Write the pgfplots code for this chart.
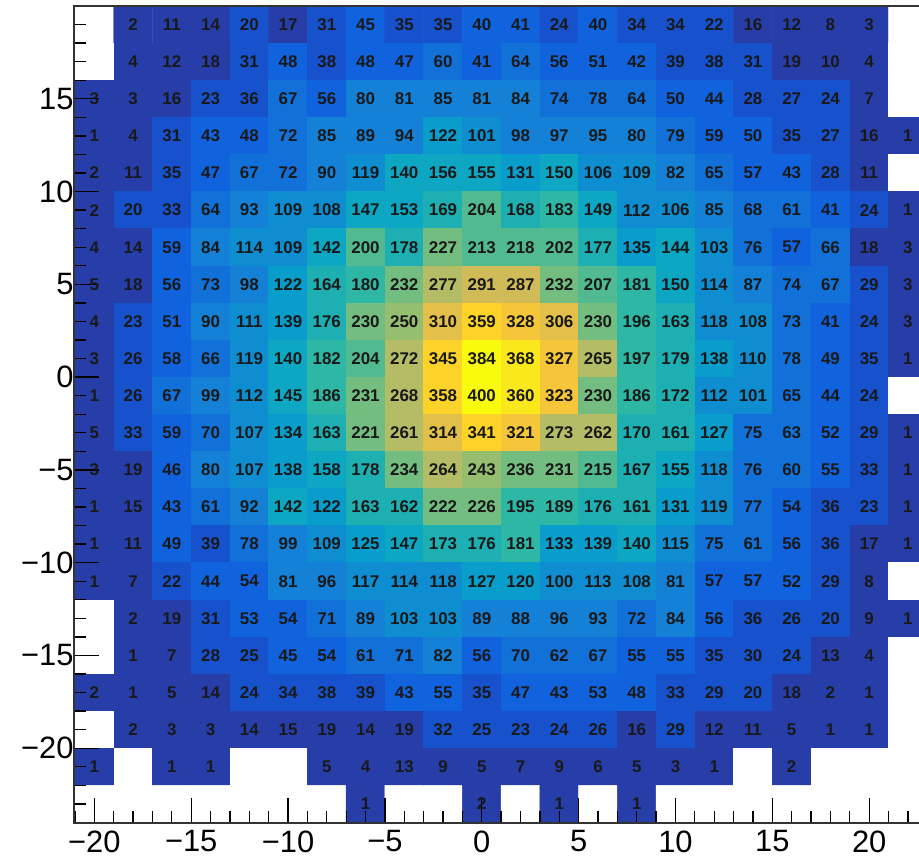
\documentclass[border=0pt]{standalone}
\usepackage{fontspec}
\setmainfont{Liberation Sans}
\usepackage{pgfplots}
\usepackage{pgfplotstable}
\pgfplotsset{compat=1.18}

% 2D histogram contents: bin centres (x, y) and bin content z (0 = empty bin)
\pgfplotstableread[row sep=\\]{
x y z \\
-20 19 0 \\ -18 19 2 \\ -16 19 11 \\ -14 19 14 \\ -12 19 20 \\ -10 19 17 \\ -8 19 31 \\ -6 19 45 \\ -4 19 35 \\ -2 19 35 \\ 0 19 40 \\ 2 19 41 \\ 4 19 24 \\ 6 19 40 \\ 8 19 34 \\ 10 19 34 \\ 12 19 22 \\ 14 19 16 \\ 16 19 12 \\ 18 19 8 \\ 20 19 3 \\ 22 19 0 \\
-20 17 0 \\ -18 17 4 \\ -16 17 12 \\ -14 17 18 \\ -12 17 31 \\ -10 17 48 \\ -8 17 38 \\ -6 17 48 \\ -4 17 47 \\ -2 17 60 \\ 0 17 41 \\ 2 17 64 \\ 4 17 56 \\ 6 17 51 \\ 8 17 42 \\ 10 17 39 \\ 12 17 38 \\ 14 17 31 \\ 16 17 19 \\ 18 17 10 \\ 20 17 4 \\ 22 17 0 \\
-20 15 3 \\ -18 15 3 \\ -16 15 16 \\ -14 15 23 \\ -12 15 36 \\ -10 15 67 \\ -8 15 56 \\ -6 15 80 \\ -4 15 81 \\ -2 15 85 \\ 0 15 81 \\ 2 15 84 \\ 4 15 74 \\ 6 15 78 \\ 8 15 64 \\ 10 15 50 \\ 12 15 44 \\ 14 15 28 \\ 16 15 27 \\ 18 15 24 \\ 20 15 7 \\ 22 15 0 \\
-20 13 1 \\ -18 13 4 \\ -16 13 31 \\ -14 13 43 \\ -12 13 48 \\ -10 13 72 \\ -8 13 85 \\ -6 13 89 \\ -4 13 94 \\ -2 13 122 \\ 0 13 101 \\ 2 13 98 \\ 4 13 97 \\ 6 13 95 \\ 8 13 80 \\ 10 13 79 \\ 12 13 59 \\ 14 13 50 \\ 16 13 35 \\ 18 13 27 \\ 20 13 16 \\ 22 13 1 \\
-20 11 2 \\ -18 11 11 \\ -16 11 35 \\ -14 11 47 \\ -12 11 67 \\ -10 11 72 \\ -8 11 90 \\ -6 11 119 \\ -4 11 140 \\ -2 11 156 \\ 0 11 155 \\ 2 11 131 \\ 4 11 150 \\ 6 11 106 \\ 8 11 109 \\ 10 11 82 \\ 12 11 65 \\ 14 11 57 \\ 16 11 43 \\ 18 11 28 \\ 20 11 11 \\ 22 11 0 \\
-20 9 2 \\ -18 9 20 \\ -16 9 33 \\ -14 9 64 \\ -12 9 93 \\ -10 9 109 \\ -8 9 108 \\ -6 9 147 \\ -4 9 153 \\ -2 9 169 \\ 0 9 204 \\ 2 9 168 \\ 4 9 183 \\ 6 9 149 \\ 8 9 112 \\ 10 9 106 \\ 12 9 85 \\ 14 9 68 \\ 16 9 61 \\ 18 9 41 \\ 20 9 24 \\ 22 9 1 \\
-20 7 4 \\ -18 7 14 \\ -16 7 59 \\ -14 7 84 \\ -12 7 114 \\ -10 7 109 \\ -8 7 142 \\ -6 7 200 \\ -4 7 178 \\ -2 7 227 \\ 0 7 213 \\ 2 7 218 \\ 4 7 202 \\ 6 7 177 \\ 8 7 135 \\ 10 7 144 \\ 12 7 103 \\ 14 7 76 \\ 16 7 57 \\ 18 7 66 \\ 20 7 18 \\ 22 7 3 \\
-20 5 5 \\ -18 5 18 \\ -16 5 56 \\ -14 5 73 \\ -12 5 98 \\ -10 5 122 \\ -8 5 164 \\ -6 5 180 \\ -4 5 232 \\ -2 5 277 \\ 0 5 291 \\ 2 5 287 \\ 4 5 232 \\ 6 5 207 \\ 8 5 181 \\ 10 5 150 \\ 12 5 114 \\ 14 5 87 \\ 16 5 74 \\ 18 5 67 \\ 20 5 29 \\ 22 5 3 \\
-20 3 4 \\ -18 3 23 \\ -16 3 51 \\ -14 3 90 \\ -12 3 111 \\ -10 3 139 \\ -8 3 176 \\ -6 3 230 \\ -4 3 250 \\ -2 3 310 \\ 0 3 359 \\ 2 3 328 \\ 4 3 306 \\ 6 3 230 \\ 8 3 196 \\ 10 3 163 \\ 12 3 118 \\ 14 3 108 \\ 16 3 73 \\ 18 3 41 \\ 20 3 24 \\ 22 3 3 \\
-20 1 3 \\ -18 1 26 \\ -16 1 58 \\ -14 1 66 \\ -12 1 119 \\ -10 1 140 \\ -8 1 182 \\ -6 1 204 \\ -4 1 272 \\ -2 1 345 \\ 0 1 384 \\ 2 1 368 \\ 4 1 327 \\ 6 1 265 \\ 8 1 197 \\ 10 1 179 \\ 12 1 138 \\ 14 1 110 \\ 16 1 78 \\ 18 1 49 \\ 20 1 35 \\ 22 1 1 \\
-20 -1 1 \\ -18 -1 26 \\ -16 -1 67 \\ -14 -1 99 \\ -12 -1 112 \\ -10 -1 145 \\ -8 -1 186 \\ -6 -1 231 \\ -4 -1 268 \\ -2 -1 358 \\ 0 -1 400 \\ 2 -1 360 \\ 4 -1 323 \\ 6 -1 230 \\ 8 -1 186 \\ 10 -1 172 \\ 12 -1 112 \\ 14 -1 101 \\ 16 -1 65 \\ 18 -1 44 \\ 20 -1 24 \\ 22 -1 0 \\
-20 -3 5 \\ -18 -3 33 \\ -16 -3 59 \\ -14 -3 70 \\ -12 -3 107 \\ -10 -3 134 \\ -8 -3 163 \\ -6 -3 221 \\ -4 -3 261 \\ -2 -3 314 \\ 0 -3 341 \\ 2 -3 321 \\ 4 -3 273 \\ 6 -3 262 \\ 8 -3 170 \\ 10 -3 161 \\ 12 -3 127 \\ 14 -3 75 \\ 16 -3 63 \\ 18 -3 52 \\ 20 -3 29 \\ 22 -3 1 \\
-20 -5 3 \\ -18 -5 19 \\ -16 -5 46 \\ -14 -5 80 \\ -12 -5 107 \\ -10 -5 138 \\ -8 -5 158 \\ -6 -5 178 \\ -4 -5 234 \\ -2 -5 264 \\ 0 -5 243 \\ 2 -5 236 \\ 4 -5 231 \\ 6 -5 215 \\ 8 -5 167 \\ 10 -5 155 \\ 12 -5 118 \\ 14 -5 76 \\ 16 -5 60 \\ 18 -5 55 \\ 20 -5 33 \\ 22 -5 1 \\
-20 -7 1 \\ -18 -7 15 \\ -16 -7 43 \\ -14 -7 61 \\ -12 -7 92 \\ -10 -7 142 \\ -8 -7 122 \\ -6 -7 163 \\ -4 -7 162 \\ -2 -7 222 \\ 0 -7 226 \\ 2 -7 195 \\ 4 -7 189 \\ 6 -7 176 \\ 8 -7 161 \\ 10 -7 131 \\ 12 -7 119 \\ 14 -7 77 \\ 16 -7 54 \\ 18 -7 36 \\ 20 -7 23 \\ 22 -7 1 \\
-20 -9 1 \\ -18 -9 11 \\ -16 -9 49 \\ -14 -9 39 \\ -12 -9 78 \\ -10 -9 99 \\ -8 -9 109 \\ -6 -9 125 \\ -4 -9 147 \\ -2 -9 173 \\ 0 -9 176 \\ 2 -9 181 \\ 4 -9 133 \\ 6 -9 139 \\ 8 -9 140 \\ 10 -9 115 \\ 12 -9 75 \\ 14 -9 61 \\ 16 -9 56 \\ 18 -9 36 \\ 20 -9 17 \\ 22 -9 1 \\
-20 -11 1 \\ -18 -11 7 \\ -16 -11 22 \\ -14 -11 44 \\ -12 -11 54 \\ -10 -11 81 \\ -8 -11 96 \\ -6 -11 117 \\ -4 -11 114 \\ -2 -11 118 \\ 0 -11 127 \\ 2 -11 120 \\ 4 -11 100 \\ 6 -11 113 \\ 8 -11 108 \\ 10 -11 81 \\ 12 -11 57 \\ 14 -11 57 \\ 16 -11 52 \\ 18 -11 29 \\ 20 -11 8 \\ 22 -11 0 \\
-20 -13 0 \\ -18 -13 2 \\ -16 -13 19 \\ -14 -13 31 \\ -12 -13 53 \\ -10 -13 54 \\ -8 -13 71 \\ -6 -13 89 \\ -4 -13 103 \\ -2 -13 103 \\ 0 -13 89 \\ 2 -13 88 \\ 4 -13 96 \\ 6 -13 93 \\ 8 -13 72 \\ 10 -13 84 \\ 12 -13 56 \\ 14 -13 36 \\ 16 -13 26 \\ 18 -13 20 \\ 20 -13 9 \\ 22 -13 1 \\
-20 -15 0 \\ -18 -15 1 \\ -16 -15 7 \\ -14 -15 28 \\ -12 -15 25 \\ -10 -15 45 \\ -8 -15 54 \\ -6 -15 61 \\ -4 -15 71 \\ -2 -15 82 \\ 0 -15 56 \\ 2 -15 70 \\ 4 -15 62 \\ 6 -15 67 \\ 8 -15 55 \\ 10 -15 55 \\ 12 -15 35 \\ 14 -15 30 \\ 16 -15 24 \\ 18 -15 13 \\ 20 -15 4 \\ 22 -15 0 \\
-20 -17 2 \\ -18 -17 1 \\ -16 -17 5 \\ -14 -17 14 \\ -12 -17 24 \\ -10 -17 34 \\ -8 -17 38 \\ -6 -17 39 \\ -4 -17 43 \\ -2 -17 55 \\ 0 -17 35 \\ 2 -17 47 \\ 4 -17 43 \\ 6 -17 53 \\ 8 -17 48 \\ 10 -17 33 \\ 12 -17 29 \\ 14 -17 20 \\ 16 -17 18 \\ 18 -17 2 \\ 20 -17 1 \\ 22 -17 0 \\
-20 -19 0 \\ -18 -19 2 \\ -16 -19 3 \\ -14 -19 3 \\ -12 -19 14 \\ -10 -19 15 \\ -8 -19 19 \\ -6 -19 14 \\ -4 -19 19 \\ -2 -19 32 \\ 0 -19 25 \\ 2 -19 23 \\ 4 -19 24 \\ 6 -19 26 \\ 8 -19 16 \\ 10 -19 29 \\ 12 -19 12 \\ 14 -19 11 \\ 16 -19 5 \\ 18 -19 1 \\ 20 -19 1 \\ 22 -19 0 \\
-20 -21 1 \\ -18 -21 0 \\ -16 -21 1 \\ -14 -21 1 \\ -12 -21 0 \\ -10 -21 0 \\ -8 -21 5 \\ -6 -21 4 \\ -4 -21 13 \\ -2 -21 9 \\ 0 -21 5 \\ 2 -21 7 \\ 4 -21 9 \\ 6 -21 6 \\ 8 -21 5 \\ 10 -21 3 \\ 12 -21 1 \\ 14 -21 0 \\ 16 -21 2 \\ 18 -21 0 \\ 20 -21 0 \\ 22 -21 0 \\
-20 -23 0 \\ -18 -23 0 \\ -16 -23 0 \\ -14 -23 0 \\ -12 -23 0 \\ -10 -23 0 \\ -8 -23 0 \\ -6 -23 1 \\ -4 -23 0 \\ -2 -23 0 \\ 0 -23 2 \\ 2 -23 0 \\ 4 -23 1 \\ 6 -23 0 \\ 8 -23 1 \\ 10 -23 0 \\ 12 -23 0 \\ 14 -23 0 \\ 16 -23 0 \\ 18 -23 0 \\ 20 -23 0 \\ 22 -23 0 \\
}\hist

\begin{document}
\begin{tikzpicture}
\begin{axis}[
  scale only axis,
  width=850bp, height=817bp,
  xmin=-21.05, xmax=22.83,
  ymin=-24.03, ymax=20.0,
  enlargelimits=false,
  axis on top,
  axis line style={black!80, line width=1.2bp},
  tick style={black, line width=1.3bp},
  tick align=inside,
  xtick pos=left, ytick pos=left,
  major tick length=25bp, minor tick length=12bp,
  xtick={-20,-15,...,20},
  xticklabels={−20,−15,−10,−5,0,5,10,15,20},
  ytick={-20,-15,...,15},
  yticklabels={−20,−15,−10,−5,0,5,10,15},
  minor xtick={-21,-20,...,22},
  minor ytick={-24,-23,...,19},
  ticklabel style={font=\fontsize{31}{31}\selectfont},
  xticklabel style={yshift=-4bp},
  yticklabel style={xshift=3bp},
  % palette with 20 discrete contour levels of width 20, empty bins white
  colormap={birdlevels}{
    rgb255(0pt)=(255,255,255);
    rgb255(1pt)=(39,61,168);
    rgb255(20pt)=(23,81,203);
    rgb255(40pt)=(16,99,220);
    rgb255(60pt)=(18,113,217);
    rgb255(80pt)=(20,128,214);
    rgb255(100pt)=(14,142,209);
    rgb255(120pt)=(9,157,204);
    rgb255(140pt)=(13,167,195);
    rgb255(160pt)=(30,175,179);
    rgb255(180pt)=(46,183,164);
    rgb255(200pt)=(82,186,145);
    rgb255(220pt)=(116,189,128);
    rgb255(240pt)=(150,190,113);
    rgb255(260pt)=(180,189,101);
    rgb255(280pt)=(209,187,89);
    rgb255(300pt)=(227,192,74);
    rgb255(320pt)=(245,198,58);
    rgb255(340pt)=(253,211,42);
    rgb255(360pt)=(251,232,28);
    rgb255(380pt)=(249,251,14);
    rgb255(400pt)=(249,251,14)
  },
  colormap access=piecewise constant,
  point meta min=-0.5, point meta max=399.5,
]
\addplot[matrix plot*, mesh/cols=22, point meta=explicit]
  table[x=x, y=y, meta=z]{\hist};
\addplot[only marks, mark=none, point meta=explicit symbolic,
  nodes near coords={\ifnum\pgfplotspointmeta=0 \else\pgfplotspointmeta\fi},
  nodes near coords align=center,
  every node near coord/.append style={font=\fontsize{17}{17}\selectfont\bfseries,
    text=black!90, inner sep=0pt, anchor=center}]
  table[x=x, y=y, meta=z]{\hist};
\end{axis}
\pgfresetboundingbox
\useasboundingbox (-74bp,-38bp) rectangle (845bp,823bp);
\end{tikzpicture}
\end{document}
